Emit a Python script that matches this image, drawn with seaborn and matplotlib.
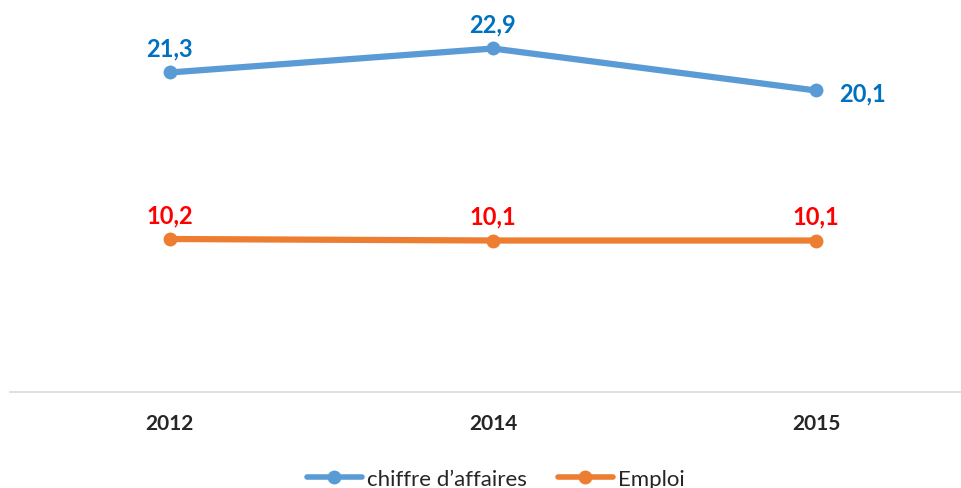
import numpy as np
import pandas as pd
import seaborn as sb
import matplotlib.pyplot as plt

years = ['2012', '2014', '2015']
chiffre_affaires = [21.3, 22.9, 20.1]
emploi = [10.2, 10.1, 10.1]
series_names = ['chiffre d’affaires', 'Emploi']

df = pd.DataFrame({
    'annee': years * 2,
    'valeur': chiffre_affaires + emploi,
    'serie': [series_names[0]] * 3 + [series_names[1]] * 3,
})

sb.set_style("white")
plt.rcParams['font.family'] = ['Lato', 'DejaVu Sans']

fig = plt.figure(figsize=(9.62, 4.89), dpi=100)
ax = fig.add_axes([0.0104, 0.1963, 0.9896, 0.7669])

palette = {series_names[0]: '#5B9BD5', series_names[1]: '#ED7D31'}
sb.lineplot(data=df, x='annee', y='valeur', hue='serie', palette=palette,
            marker='o', markersize=10, markeredgewidth=0, linewidth=4.5,
            sort=False, ax=ax)

ax.set_ylim(0, 25)
ax.set_xlim(-0.495, 2.452)

# étiquettes de données
lbl_size = 17
for i, v in enumerate(chiffre_affaires):
    if i == 2:
        ax.annotate(f"{v:.1f}".replace('.', ','), (i, v), xytext=(16.5, -1.5),
                    textcoords='offset points', ha='left', va='center',
                    color='#0070C0', fontsize=lbl_size, fontweight='bold')
    else:
        ax.annotate(f"{v:.1f}".replace('.', ','), (i, v), xytext=(0, 17.5),
                    textcoords='offset points', ha='center', va='center',
                    color='#0070C0', fontsize=lbl_size, fontweight='bold')
for i, v in enumerate(emploi):
    ax.annotate(f"{v:.1f}".replace('.', ','), (i, v), xytext=(0, 17.5),
                textcoords='offset points', ha='center', va='center',
                color='#FF0000', fontsize=lbl_size, fontweight='bold')

for side in ['top', 'right', 'left']:
    ax.spines[side].set_visible(False)
ax.spines['bottom'].set_color('#D9D9D9')
ax.spines['bottom'].set_linewidth(1.2)
ax.set_yticks([])
ax.set_xlabel('')
ax.set_ylabel('')
ax.tick_params(axis='x', length=0, pad=15, labelsize=15)
for lbl in ax.get_xticklabels():
    lbl.set_fontweight('bold')

leg = ax.legend(loc='center', bbox_to_anchor=(0.51, -0.232), ncol=2,
                frameon=False, fontsize=16, handlelength=2.5,
                handletextpad=0.2, columnspacing=1.4)
for line in leg.get_lines():
    line.set_linewidth(4)
    line.set_markersize(10)

fig.savefig('out.png', dpi=100)
